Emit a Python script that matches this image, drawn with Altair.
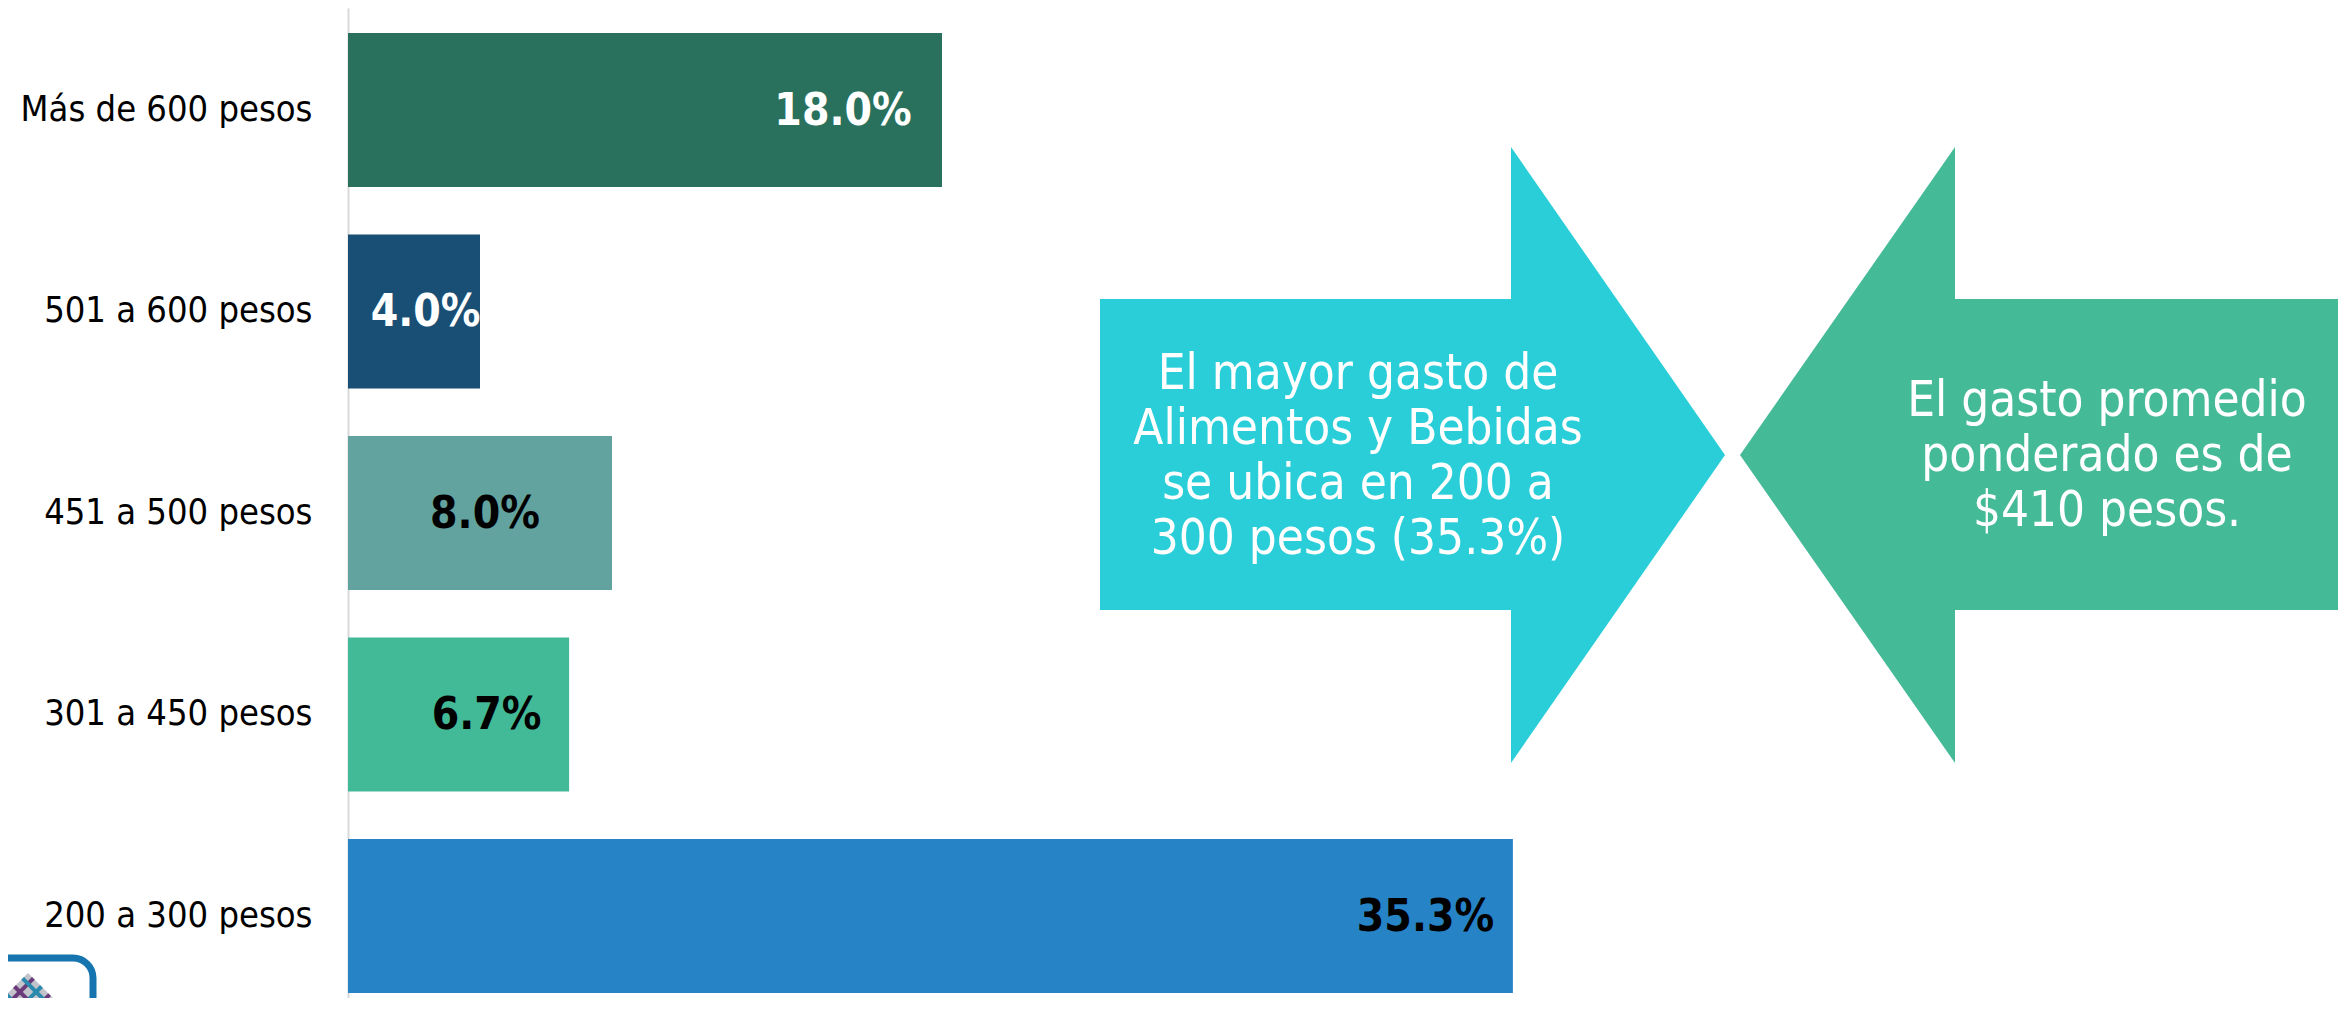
import altair as alt
import pandas as pd

# ---- data ----
categories = ["Más de 600 pesos", "501 a 600 pesos", "451 a 500 pesos",
              "301 a 450 pesos", "200 a 300 pesos"]
values = [18.0, 4.0, 8.0, 6.7, 35.3]
value_labels = ["18.0%", "4.0%", "8.0%", "6.7%", "35.3%"]
label_anchor = [15.0, 2.35, 4.15, 4.2, 32.65]   # where the data label sits (in % units)

bar_colors = ["#29715D", "#1A4F75", "#62A39F", "#43BA97", "#2683C6"]
label_colors = ["white", "white", "black", "black", "black"]

callout_left = ["El mayor gasto de", "Alimentos y Bebidas",
                "se ubica en 200 a", "300 pesos (35.3%)"]
callout_right = ["El gasto promedio", "ponderado es de", "$410 pesos."]

FONT = "DejaVu Sans Condensed, DejaVu Sans"

df = pd.DataFrame({"cat": categories, "value": values, "lab": value_labels,
                   "pos": label_anchor, "lc": label_colors})

PLOT_W, PLOT_H = 1990, 990
x_bar = alt.Scale(domain=[0, PLOT_W / 33.0], nice=False, zero=True)
y_band = alt.Scale(type="band", domain=categories, paddingInner=0.2357,
                   paddingOuter=0.0744, align=0.833)

bars = alt.Chart(df).mark_bar().encode(
    x=alt.X("value:Q", scale=x_bar, axis=None),
    y=alt.Y("cat:N", sort=categories, scale=y_band, title=None,
            axis=alt.Axis(domain=True, domainColor="#D9D9D9", domainWidth=2,
                          ticks=False, grid=False, labelFont=FONT, labelFontSize=36,
                          labelColor="black", labelPadding=36, labelLimit=500)),
    color=alt.Color("cat:N", scale=alt.Scale(domain=categories, range=bar_colors), legend=None),
)

texts = alt.Chart(df).mark_text(font=FONT, fontWeight="bold", fontSize=44,
                                align="center", baseline="middle", dy=2).encode(
    x=alt.X("pos:Q", scale=x_bar, axis=None),
    y=alt.Y("cat:N", sort=categories, scale=y_band, axis=None),
    text="lab:N",
    color=alt.Color("lc:N", scale=None),
)

# ---- annotation shapes (page pixel frame) ----
ax = alt.Scale(domain=[348, 348 + PLOT_W], nice=False, zero=False)
ay = alt.Scale(domain=[8, 8 + PLOT_H], nice=False, zero=False, reverse=True)

def X(f):
    return alt.X(f + ":Q", scale=ax, axis=None)

def Y(f):
    return alt.Y(f + ":Q", scale=ay, axis=None)

CYAN = "#29CED8"
GREEN = "#45BA97"

body_df = pd.DataFrame({"x": [1100, 1954], "x2": [1512, 2400], "y": [299, 299],
                        "y2": [610, 610], "c": [CYAN, GREEN]})
bodies = alt.Chart(body_df).mark_rect().encode(
    x=X("x"), x2="x2", y=Y("y"), y2="y2", color=alt.Color("c:N", scale=None))

head1 = alt.Chart(pd.DataFrame({"x": [1511, 1725], "y": [147, 455], "y2": [763, 455]})).mark_area(
    color=CYAN).encode(x=X("x"), y=Y("y"), y2="y2")
head2 = alt.Chart(pd.DataFrame({"x": [1740, 1955], "y": [455, 147], "y2": [455, 763]})).mark_area(
    color=GREEN).encode(x=X("x"), y=Y("y"), y2="y2")

lines_df = pd.DataFrame({
    "t": callout_left + callout_right,
    "x": [1358] * 4 + [2107] * 3,
    "y": [389, 444, 499, 554, 416, 471, 526],
})
callouts = alt.Chart(lines_df).mark_text(font=FONT, fontSize=49, color="white",
                                         align="center", baseline="alphabetic").encode(
    x=X("x"), y=Y("y"), text="t:N")

# ---- logo (bottom-left) ----
logo_box = alt.Chart(pd.DataFrame({"x": [-40], "x2": [93], "y": [958], "y2": [1080]})).mark_rect(
    cornerRadius=20, fillOpacity=0, stroke="#1674AE", strokeWidth=7).encode(
    x=X("x"), x2="x2", y=Y("y"), y2="y2")
logo_diamond = alt.Chart(pd.DataFrame({"x": [28], "y": [1000]})).mark_point(
    shape="diamond", filled=True, size=2916, color="#C3C3CC", opacity=1).encode(x=X("x"), y=Y("y"))
stripe_df = pd.DataFrame({
    "x": [6.4, 14.5, 22.6, 6.4, 14.5, 22.6],
    "y": [1005.4, 1013.5, 1021.6, 994.6, 986.5, 978.4],
    "x2": [33.4, 41.5, 49.6, 33.4, 41.5, 49.6],
    "y2": [978.4, 986.5, 994.6, 1021.6, 1013.5, 1005.4],
    "c": ["#6B3A7A", "#2A8AAE", "#6B3A7A", "#2A8AAE", "#6B3A7A", "#2A8AAE"],
})
logo_stripes = alt.Chart(stripe_df).mark_rule(strokeWidth=4).encode(
    x=X("x"), y=Y("y"), x2="x2", y2="y2", color=alt.Color("c:N", scale=None))

chart = alt.layer(
    bars, texts, bodies, head1, head2, callouts, logo_box, logo_diamond, logo_stripes
).resolve_scale(
    x="independent", y="independent", color="independent"
).properties(
    width=PLOT_W, height=PLOT_H,
    autosize=alt.AutoSizeParams(type="none"),
    padding={"left": 340, "top": 0, "right": 0, "bottom": 0},
    background="white",
).configure_view(strokeWidth=0)

chart.save("out.html", embed_options={"renderer": "svg", "actions": False})
